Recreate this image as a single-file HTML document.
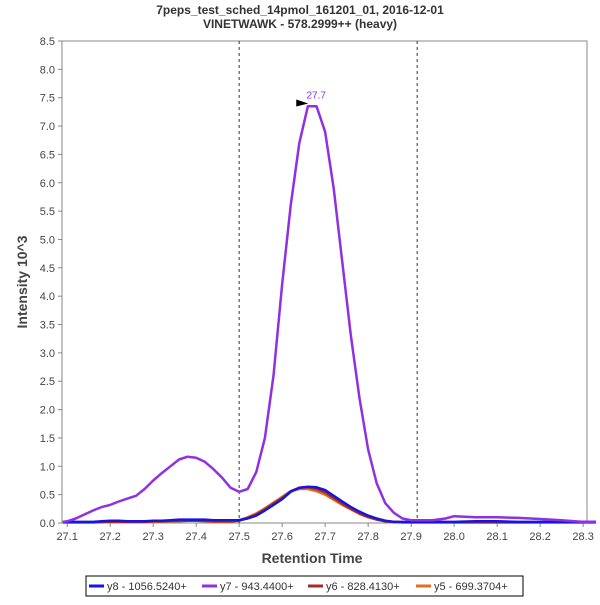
<!DOCTYPE html>
<html><head><meta charset="utf-8"><style>
body{margin:0;background:#fff;font-family:"Liberation Sans",sans-serif}
</style></head><body>
<svg width="600" height="600" xmlns="http://www.w3.org/2000/svg" font-family="Liberation Sans, sans-serif">
<rect width="600" height="600" fill="#fff"/>
<text x="300" y="14" text-anchor="middle" font-size="12" font-weight="bold" fill="#333">7peps_test_sched_14pmol_161201_01, 2016-12-01</text>
<text x="300" y="28" text-anchor="middle" font-size="12" font-weight="bold" fill="#333">VINETWAWK - 578.2999++ (heavy)</text>
<g id="axes"></g>
<g id="series"></g>
<text x="312" y="563" text-anchor="middle" font-size="14" font-weight="bold" fill="#444">Retention Time</text>
<text transform="translate(27,282) rotate(-90)" text-anchor="middle" font-size="14" font-weight="bold" fill="#444">Intensity 10^3</text>
<g>
<rect x="86" y="576" width="437" height="20" fill="#fff" stroke="#000"/>
<g><line x1="89" y1="586" x2="104" y2="586" stroke="#1515e0" stroke-width="3"/><text x="107" y="590" font-size="11" fill="#333">y8 - 1056.5240+</text></g>
<g><line x1="202" y1="586" x2="217" y2="586" stroke="#9030e0" stroke-width="3"/><text x="220" y="590" font-size="11" fill="#333">y7 - 943.4400+</text></g>
<g><line x1="308" y1="586" x2="323" y2="586" stroke="#a52a2a" stroke-width="3"/><text x="326" y="590" font-size="11" fill="#333">y6 - 828.4130+</text></g>
<g><line x1="416" y1="586" x2="431" y2="586" stroke="#e07020" stroke-width="3"/><text x="434" y="590" font-size="11" fill="#333">y5 - 699.3704+</text></g>
</g>
</svg>
<script>
const xTicks=[27.1,27.2,27.3,27.4,27.5,27.6,27.7,27.8,27.9,28.0,28.1,28.2,28.3];
const yTicks=[0,0.5,1,1.5,2,2.5,3,3.5,4,4.5,5,5.5,6,6.5,7,7.5,8,8.5];
const markers=[27.5,27.914];
const peakLabel="27.7";
const peakTime=27.67, peakValue=7.38;
const times=[27.09,27.1,27.12,27.14,27.16,27.18,27.2,27.22,27.24,27.26,27.28,27.3,27.32,27.34,27.36,27.38,27.4,27.42,27.44,27.46,27.48,27.5,27.52,27.54,27.56,27.58,27.6,27.62,27.64,27.66,27.68,27.7,27.72,27.74,27.76,27.78,27.8,27.82,27.84,27.86,27.88,27.9,27.95,27.98,28.0,28.05,28.1,28.15,28.2,28.25,28.3,28.33];
const y7=[0.02,0.03,0.08,0.15,0.22,0.28,0.32,0.38,0.43,0.48,0.6,0.75,0.88,1.0,1.12,1.17,1.15,1.08,0.95,0.8,0.62,0.55,0.6,0.9,1.5,2.6,4.2,5.6,6.7,7.35,7.35,6.9,5.9,4.6,3.3,2.2,1.3,0.7,0.35,0.18,0.08,0.05,0.05,0.08,0.12,0.1,0.1,0.09,0.07,0.05,0.02,0.02];
const y8=[0.02,0.02,0.02,0.02,0.02,0.03,0.04,0.04,0.03,0.03,0.03,0.04,0.04,0.05,0.06,0.06,0.06,0.06,0.05,0.05,0.05,0.05,0.08,0.13,0.22,0.32,0.42,0.55,0.62,0.64,0.63,0.58,0.48,0.38,0.28,0.2,0.13,0.08,0.04,0.02,0.02,0.02,0.02,0.02,0.02,0.03,0.03,0.02,0.02,0.02,0.02,0.02];
const y6=[0.01,0.01,0.01,0.01,0.01,0.02,0.02,0.02,0.02,0.02,0.02,0.03,0.03,0.04,0.04,0.04,0.04,0.04,0.03,0.03,0.03,0.04,0.09,0.15,0.24,0.34,0.44,0.56,0.62,0.63,0.6,0.54,0.44,0.34,0.25,0.17,0.11,0.06,0.03,0.02,0.01,0.01,0.01,0.01,0.01,0.01,0.01,0.01,0.01,0.01,0.01,0.01];
const y5=[0.01,0.01,0.01,0.01,0.01,0.01,0.02,0.02,0.02,0.02,0.02,0.02,0.03,0.03,0.03,0.04,0.04,0.03,0.02,0.02,0.02,0.05,0.1,0.17,0.26,0.36,0.46,0.56,0.6,0.6,0.56,0.5,0.41,0.32,0.24,0.16,0.1,0.06,0.03,0.02,0.01,0.01,0.01,0.01,0.01,0.01,0.01,0.01,0.01,0.01,0.01,0.01];

const L=62,R=587,T=41,B=523;
const xMin=27.088,xMax=28.309,yMax=8.5;
const sx=v=>L+(v-xMin)/(xMax-xMin)*(R-L);
const sy=v=>B-v/yMax*(B-T);
const NS="http://www.w3.org/2000/svg";
function mk(tag,attrs,parent){const e=document.createElementNS(NS,tag);for(const k in attrs)e.setAttribute(k,attrs[k]);parent.appendChild(e);return e;}
const ax=document.getElementById('axes');
const frame=mk('rect',{x:L,y:T,width:R-L,height:B-T,fill:'#fff',stroke:'#888'},ax);


xTicks.forEach(t=>{const x=sx(t);
 mk('line',{x1:x,y1:B,x2:x,y2:B+4,stroke:'#888'},ax);
 const tx=mk('text',{x:x,y:B+17,'text-anchor':'middle','font-size':11,fill:'#444'},ax);tx.textContent=t.toFixed(1);
 
 });
yTicks.forEach(t=>{const y=sy(t);
 mk('line',{x1:L-4,y1:y,x2:L,y2:y,stroke:'#888'},ax);
 const tx=mk('text',{x:L-7,y:y+4,'text-anchor':'end','font-size':11,fill:'#444'},ax);tx.textContent=t.toFixed(1);
 
 });
markers.forEach(m=>{const l=mk('line',{x1:sx(m),y1:T,x2:sx(m),y2:B,stroke:'#333','stroke-dasharray':'3,3'},ax);
 
 });
const sg=document.getElementById('series');
const series=[[y5,'#e07020','series-y5'],[y6,'#a52a2a','series-y6'],[y8,'#1515e0','series-y8'],[y7,'#9030e0','series-y7']];
series.forEach(([vals,c,n])=>{
 const d=times.map((t,i)=>(i?'L':'M')+sx(t).toFixed(1)+','+sy(vals[i]).toFixed(1)).join(' ');
 const p=mk('path',{d:d,fill:'none',stroke:c,'stroke-width':2.5,'stroke-linejoin':'round'},sg);
 
 });
const px=sx(peakTime),py=sy(peakValue);
const tri=mk('polygon',{points:`${px-16},${py-5} ${px-4},${py-1} ${px-16},${py+2}`,fill:'#000'},sg);


const pl=mk('text',{x:px+4,y:py-6,'text-anchor':'middle','font-size':10,fill:'#9030e0'},sg);
pl.textContent=peakLabel;


</script>
</body></html>
